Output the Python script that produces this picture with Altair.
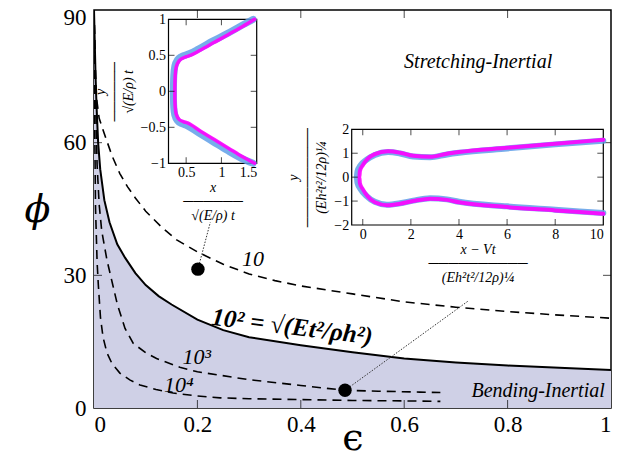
import altair as alt
import pandas as pd

# ---------------- data ----------------
eps_solid = [0, 0.001, 0.003, 0.005, 0.008, 0.012, 0.02, 0.03, 0.045, 0.06, 0.08, 0.1,
             0.125, 0.15, 0.2, 0.25, 0.3, 0.4, 0.5, 0.6, 0.7, 0.8, 0.9, 1.0]
phi_solid = [90, 85, 75, 68, 60, 54, 47, 42, 37, 34, 30.5, 27.8,
             25.3, 23.4, 20.0, 17.6, 16.0, 14.2, 12.6, 11.2, 10.3, 9.6, 9.1, 8.6]

eps_10 = [0, 0.002, 0.005, 0.01, 0.02, 0.035, 0.05, 0.065, 0.08, 0.1, 0.13, 0.16, 0.2,
          0.25, 0.3, 0.35, 0.4, 0.45, 0.5, 0.6, 0.7, 0.8, 0.9, 1.0]
phi_10 = [90, 79, 70, 65.5, 62, 57, 53, 50, 47.5, 44.5, 41, 38, 35.3,
          32.5, 30.3, 28.8, 27.6, 26.7, 25.8, 24.0, 22.8, 21.8, 21.0, 20.3]

eps_1e3 = [0, 0.001, 0.003, 0.006, 0.01, 0.015, 0.025, 0.035, 0.045, 0.06, 0.076, 0.1,
           0.121, 0.166, 0.2, 0.244, 0.3, 0.4, 0.485, 0.55, 0.63, 0.67]
phi_1e3 = [90, 85, 70, 55, 46, 40, 33.5, 28.5, 23.5, 18, 14.6, 12.5,
           11.2, 9.2, 8.2, 7.4, 6.4, 5.1, 4.0, 3.8, 3.6, 3.5]

eps_1e4 = [0, 0.001, 0.003, 0.006, 0.0083, 0.0125, 0.0175, 0.025, 0.035, 0.05, 0.07,
           0.089, 0.12, 0.153, 0.2, 0.244, 0.3, 0.4, 0.5, 0.6, 0.67]
phi_1e4 = [90, 68, 45, 33, 28, 20.5, 16, 12.5, 10, 7.9, 6.3,
           5.2, 4.2, 3.4, 2.7, 2.3, 2.1, 1.9, 1.7, 1.6, 1.5]

dot_eps = [0.201, 0.4855]
dot_phi = [31.4, 4.0]

leader_id = ["a", "a", "b", "b"]
leader_eps = [0.201, 0.225, 0.4855, 0.725]
leader_phi = [31.4, 42.0, 4.0, 24.3]

x_ticks = [0, 0.2, 0.4, 0.6, 0.8, 1]
y_ticks = [0, 30, 60, 90]

# inset 1 (left)
in1_mag_x = [1.47, 1.30, 1.10, 0.90, 0.70, 0.56, 0.50, 0.45, 0.40, 0.36, 0.345, 0.34,
             0.34, 0.345, 0.36, 0.40, 0.46, 0.52, 0.70, 0.90, 1.10, 1.30, 1.47]
in1_mag_y = [1.0, 0.90, 0.79, 0.68, 0.57, 0.50, 0.48, 0.46, 0.42, 0.34, 0.22, 0.05,
             -0.10, -0.22, -0.32, -0.39, -0.42, -0.44, -0.55, -0.67, -0.79, -0.91, -1.0]
in1_blue_x = [1.45, 1.28, 1.08, 0.88, 0.68, 0.54, 0.48, 0.43, 0.38, 0.34, 0.325, 0.32,
              0.32, 0.325, 0.34, 0.38, 0.44, 0.50, 0.68, 0.88, 1.08, 1.28, 1.45]
in1_blue_y = [1.0, 0.91, 0.80, 0.70, 0.59, 0.52, 0.50, 0.48, 0.44, 0.35, 0.22, 0.05,
              -0.10, -0.23, -0.33, -0.41, -0.45, -0.47, -0.58, -0.70, -0.82, -0.93, -1.0]
in1_x_ticks = [0.5, 1, 1.5]
in1_y_ticks = [-1, -0.5, 0, 0.5, 1]

# inset 2 (right)
in2_mag_x = [10, 8, 6, 4, 3.5, 2.8, 2.1, 1.55, 1.05, 0.5, 0.2, 0.0, -0.12, -0.14,
             -0.12, 0.0, 0.2, 0.5, 1.0, 1.55, 2.1, 2.8, 3.5, 4.0, 6.0, 8.0, 10]
in2_mag_y = [1.56, 1.40, 1.23, 1.05, 0.98, 0.85, 0.89, 1.02, 1.08, 0.96, 0.76, 0.5, 0.25, 0.0,
             -0.25, -0.5, -0.8, -1.05, -1.17, -1.11, -1.0, -0.9, -0.95, -1.05, -1.25, -1.39, -1.53]
in2_blue_x = [10, 8, 6, 4, 3.5, 2.8, 2.1, 1.55, 1.05, 0.5, 0.15, -0.1, -0.22, -0.25,
              -0.22, -0.1, 0.15, 0.5, 1.0, 1.55, 2.1, 2.8, 3.5, 4.0, 6.0, 8.0, 10]
in2_blue_y = [1.52, 1.37, 1.20, 1.02, 0.95, 0.83, 0.86, 0.99, 1.05, 0.93, 0.72, 0.48, 0.24, 0.0,
              -0.24, -0.48, -0.78, -1.03, -1.15, -1.09, -0.98, -0.88, -0.93, -1.03, -1.22, -1.36, -1.50]
in2_x_ticks = [0, 2, 4, 6, 8, 10]
in2_y_ticks = [-2, -1, 0, 1, 2]

# ---------------- styling ----------------
W, H = 517, 398
FONT = "Liberation Serif"
GREEK = "DejaVu Serif"
SHADE = "#cfd0e6"
BLUE = "#5f9fe8"
MAG = "#ff00ff"

# ---------------- main panel ----------------
xaxis = alt.Axis(orient="bottom", values=x_ticks, format="~g", labelFont=FONT, labelFontSize=23,
                 labelColor="black", labelPadding=5, domain=False, ticks=False, tickSize=0, grid=False,
                 title="ϵ", titleFont=GREEK, titleFontSize=38, titleFontWeight="normal",
                 titleColor="black", titleY=30, titleBaseline="middle")
yaxis = alt.Axis(orient="left", values=y_ticks, labelFont=FONT, labelFontSize=23,
                 labelColor="black", labelPadding=8, domain=False, ticks=False, tickSize=0, grid=False,
                 labelOffset={"condition": {"test": f"datum.value == {y_ticks[-1]}", "value": 7}, "value": 0},
                 title="ϕ", titleFont=GREEK, titleFontSize=38, titleFontStyle="italic",
                 titleFontWeight="normal", titleColor="black", titleAngle=0,
                 titleX=-57, titleY=200, titleAlign="center", titleBaseline="middle")
xs = alt.Scale(domain=[0, 1], nice=False, zero=False)
ys = alt.Scale(domain=[0, 90], nice=False, zero=False)


def MX(f="eps"):
    return alt.X(f"{f}:Q", scale=xs, axis=xaxis)


def MY(f="phi"):
    return alt.Y(f"{f}:Q", scale=ys, axis=yaxis)


solid_df = pd.DataFrame({"eps": eps_solid, "phi": phi_solid})
dash_df = pd.concat([
    pd.DataFrame({"eps": eps_10, "phi": phi_10, "curve": "10"}),
    pd.DataFrame({"eps": eps_1e3, "phi": phi_1e3, "curve": "1e3"}),
    pd.DataFrame({"eps": eps_1e4, "phi": phi_1e4, "curve": "1e4"}),
])
dots_df = pd.DataFrame({"eps": dot_eps, "phi": dot_phi})
lead_df = pd.DataFrame({"eps": leader_eps, "phi": leader_phi, "id": leader_id})

area = alt.Chart(solid_df).mark_area(color=SHADE, orient="vertical", clip=True).encode(x=MX(), y=MY())
solid = alt.Chart(solid_df).mark_line(color="black", strokeWidth=2, clip=True).encode(x=MX(), y=MY())
dashed = alt.Chart(dash_df).mark_line(color="black", strokeWidth=1.6, strokeDash=[9, 6], clip=True).encode(
    x=MX(), y=MY(), detail="curve:N")
leaders = alt.Chart(lead_df).mark_line(color="#333333", strokeWidth=1, strokeDash=[1.5, 1.5]).encode(
    x=MX(), y=MY(), detail="id:N")
dots = alt.Chart(dots_df).mark_circle(size=180, color="black", opacity=1).encode(x=MX(), y=MY())


def tick_layer(df, xe, ye, orient, size, xoff=0, yoff=0):
    return alt.Chart(df).mark_tick(orient=orient, size=size, thickness=1, color="black",
                                   xOffset=xoff, yOffset=yoff).encode(x=xe, y=ye)


inner_x = x_ticks[1:-1]
inner_y = y_ticks[1:-1]
m_ticks = [
    tick_layer(pd.DataFrame({"eps": inner_x, "phi": y_ticks[0]}), MX(), MY(), "vertical", 8, yoff=-4),
    tick_layer(pd.DataFrame({"eps": inner_x, "phi": y_ticks[-1]}), MX(), MY(), "vertical", 8, yoff=4),
    tick_layer(pd.DataFrame({"eps": x_ticks[0], "phi": inner_y}), MX(), MY(), "horizontal", 8, xoff=4),
    tick_layer(pd.DataFrame({"eps": x_ticks[-1], "phi": inner_y}), MX(), MY(), "horizontal", 8, xoff=-4),
]

region_df = pd.DataFrame({"label": ["Stretching-Inertial"], "eps": [0.743], "phi": [78.2]})
bend_df = pd.DataFrame({"label": ["Bending-Inertial"], "eps": [0.988], "phi": [3.9]})
curve_lbl_df = pd.DataFrame({"label": ["10", "10³", "10⁴"],
                             "eps": [0.3075, 0.199, 0.164], "phi": [33.7, 11.6, 5.3]})
big_df = pd.DataFrame({"label": ["10² = √(Et²/ρh²)"], "eps": [0.383], "phi": [18.4]})

t_region = alt.Chart(region_df).mark_text(font=FONT, fontStyle="italic", fontSize=20, color="black",
                                          align="center", baseline="middle").encode(x=MX(), y=MY(), text="label:N")
t_bend = alt.Chart(bend_df).mark_text(font=FONT, fontStyle="italic", fontSize=20, color="black",
                                      align="right", baseline="middle").encode(x=MX(), y=MY(), text="label:N")
t_curves = alt.Chart(curve_lbl_df).mark_text(font=FONT, fontStyle="italic", fontSize=22, color="black",
                                             align="center", baseline="middle").encode(x=MX(), y=MY(), text="label:N")
t_big = alt.Chart(big_df).mark_text(font=FONT, fontStyle="italic", fontWeight="bold", fontSize=25,
                                    color="black", align="center", baseline="middle", angle=7).encode(
    x=MX(), y=MY(), text="label:N")

main = alt.layer(area, solid, dashed, leaders, dots, *m_ticks, t_region, t_bend, t_curves, t_big)


# ---------------- insets ----------------
def make_inset(xdom, ydom, xr, yr, xvals, yvals, xfmt, xtitle, ytitle, mag_x, mag_y, blue_x, blue_y,
               blue_w, mag_w, ytitle_pad):
    ax = alt.Axis(orient="bottom", offset=-(H - yr[0]), values=xvals, format=xfmt, labelFont=FONT,
                  labelFontSize=14, labelColor="black", labelPadding=2, domain=False, ticks=False,
                  tickSize=0, grid=False, title=xtitle, titleFont=FONT, titleFontSize=14,
                  titleFontStyle="italic", titleFontWeight="normal", titleColor="black",
                  titleLineHeight=14, titlePadding=1)
    ay = alt.Axis(orient="left", offset=-xr[0], values=yvals, format="~g", labelFont=FONT,
                  labelFontSize=14, labelColor="black", labelPadding=3, domain=False, ticks=False,
                  tickSize=0, grid=False, title=ytitle, titleFont=FONT, titleFontSize=14,
                  titleFontStyle="italic", titleFontWeight="normal", titleColor="black",
                  titleLineHeight=14, titlePadding=ytitle_pad)
    sx = alt.Scale(domain=xdom, range=xr, nice=False, zero=False)
    sy = alt.Scale(domain=ydom, range=yr, nice=False, zero=False)

    def IX(f="x"):
        return alt.X(f"{f}:Q", scale=sx, axis=ax)

    def IY(f="y"):
        return alt.Y(f"{f}:Q", scale=sy, axis=ay)

    frame_df = pd.DataFrame({"x": [xdom[0]], "x2": [xdom[1]], "y": [ydom[0]], "y2": [ydom[1]]})
    frame = alt.Chart(frame_df).mark_rect(fill="white", stroke="black", strokeWidth=1.2).encode(
        x=IX(), x2="x2:Q", y=IY(), y2="y2:Q")
    blue_df = pd.DataFrame({"x": blue_x, "y": blue_y, "i": range(len(blue_x))})
    mag_df = pd.DataFrame({"x": mag_x, "y": mag_y, "i": range(len(mag_x))})
    blue = alt.Chart(blue_df).mark_line(color=BLUE, strokeWidth=blue_w, opacity=0.85, clip=True,
                                        strokeCap="round", strokeJoin="round", interpolate="monotone").encode(
        x=IX(), y=IY(), order="i:Q")
    mag = alt.Chart(mag_df).mark_line(color=MAG, strokeWidth=mag_w, opacity=0.9, clip=True,
                                      strokeCap="round", strokeJoin="round", interpolate="monotone").encode(
        x=IX(), y=IY(), order="i:Q")
    ix_in = [v for v in xvals if xdom[0] < v < xdom[1]]
    iy_in = [v for v in yvals if ydom[0] < v < ydom[1]]
    tks = [
        tick_layer(pd.DataFrame({"x": ix_in, "y": ydom[0]}), IX(), IY(), "vertical", 6, yoff=-3),
        tick_layer(pd.DataFrame({"x": ix_in, "y": ydom[1]}), IX(), IY(), "vertical", 6, yoff=3),
        tick_layer(pd.DataFrame({"x": xdom[0], "y": iy_in}), IX(), IY(), "horizontal", 6, xoff=3),
        tick_layer(pd.DataFrame({"x": xdom[1], "y": iy_in}), IX(), IY(), "horizontal", 6, xoff=-3),
    ]
    return alt.layer(frame, blue, mag, *tks)


inset1 = make_inset([0.25, 1.5], [-1, 1], [74.5, 162.7], [153.3, 9.3], in1_x_ticks, in1_y_ticks, "~g",
                    ["x", "──────", "√(E/ρ) t"], ["y", "──────", "√(E/ρ) t"],
                    in1_mag_x, in1_mag_y, in1_blue_x, in1_blue_y, 7, 3.5, 5)
inset2 = make_inset([-0.46, 10], [-2, 2], [257.7, 509.3], [215, 119.3], in2_x_ticks, in2_y_ticks, "d",
                    ["x − Vt", "──────────", "(Eh²t²/12ρ)¼"], ["y", "──────────", "(Eh²t²/12ρ)¼"],
                    in2_mag_x, in2_mag_y, in2_blue_x, in2_blue_y, 6, 4, 5)

chart = alt.layer(main, inset1, inset2).resolve_scale(
    x="independent", y="independent"
).properties(
    width=W, height=H,
    padding={"left": 86, "top": 2, "right": 7, "bottom": 50},
    autosize=alt.AutoSizeParams(type="none"),
).configure_view(stroke="black", strokeWidth=1.5)

chart.save("out.html", embed_options={"renderer": "svg", "actions": False})
